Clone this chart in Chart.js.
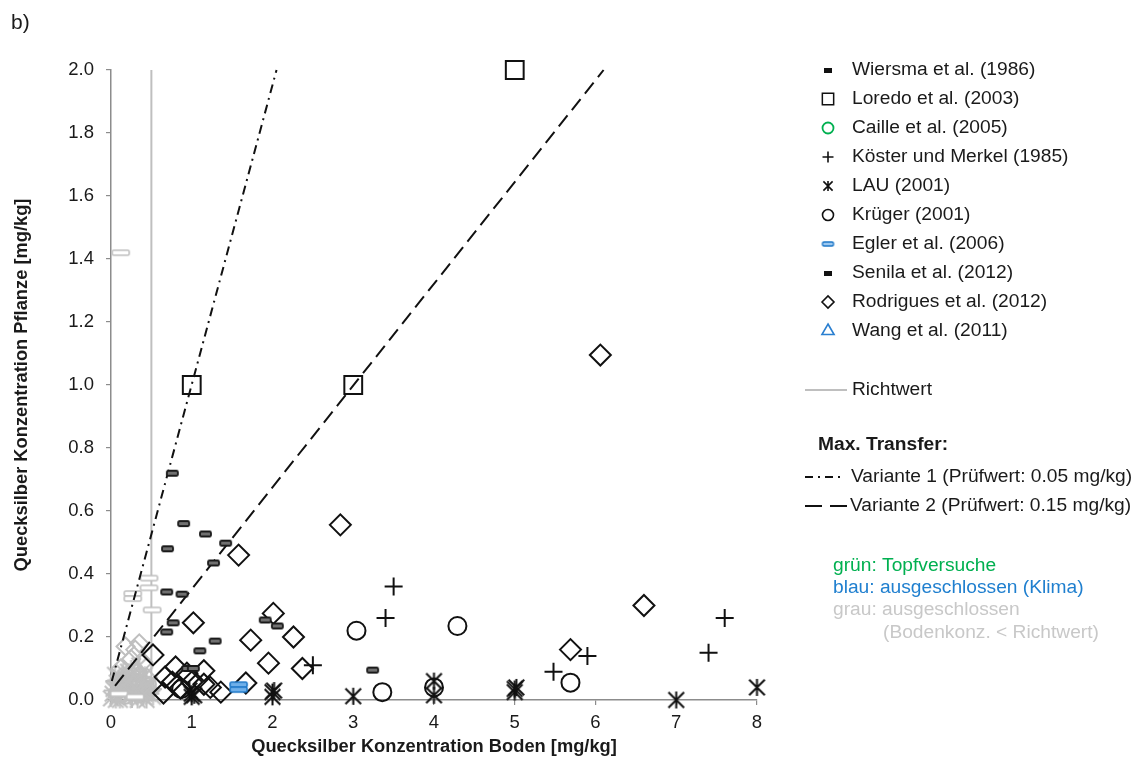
<!DOCTYPE html>
<html>
<head>
<meta charset="utf-8">
<script src="https://cdn.jsdelivr.net/npm/chart.js@4.4.1/dist/chart.umd.min.js"></script>
<style>
  html, body { margin: 0; padding: 0; background: #ffffff; }
  #wrap { width: 1140px; height: 762px; position: relative; }
</style>
</head>
<body>
<div id="wrap"><canvas id="c" width="1140" height="762"></canvas></div>
<script>
// ---- axis ticks ----
const xTicks = [0, 1, 2, 3, 4, 5, 6, 7, 8];
const yTicks = [0.0, 0.2, 0.4, 0.6, 0.8, 1.0, 1.2, 1.4, 1.6, 1.8, 2.0];

// ---- studies: [Boden, Pflanze] in mg/kg ----
const wiersma = [[0.76,0.72],[0.90,0.56],[1.17,0.527],[0.70,0.48],[1.42,0.498],[1.27,0.435],
  [0.69,0.343],[0.88,0.336],[0.77,0.245],[0.69,0.216],[1.29,0.187],[1.10,0.156],[0.95,0.10],[1.02,0.10]];
const loredo = [[1.0,1.0],[3.0,1.0],[5.0,2.0]];
const caille = [];
const koester = [[3.5,0.36],[3.4,0.26],[2.5,0.11],[5.48,0.09],[5.9,0.14],[7.6,0.26],[7.4,0.15]];
const lau = [[1.0,0.01],[1.0,0.02],[0.97,0.03],[1.03,0.015],[2.0,0.01],[2.0,0.025],[2.02,0.03],
  [3.0,0.012],[4.0,0.015],[4.0,0.06],[5.0,0.025],[5.0,0.035],[5.02,0.04],[7.0,0.0],[8.0,0.04]];
const krueger = [[3.04,0.22],[4.29,0.235],[3.36,0.025],[5.69,0.055],[4.0,0.04],[0.87,0.035]];
const egler = [[1.58,0.041]];
const senila = [[3.24,0.095],[1.91,0.254],[2.06,0.235]];
const rodrigues = [[6.06,1.095],[2.84,0.556],[6.6,0.30],[5.69,0.16],[1.58,0.46],[1.02,0.245],
  [2.01,0.275],[2.26,0.20],[1.73,0.19],[1.95,0.117],[2.37,0.10],[0.52,0.143],[1.67,0.054],
  [1.36,0.025],[0.8,0.105],[0.67,0.073],[0.94,0.085],[1.15,0.093],[0.76,0.057],[1.0,0.057],
  [1.15,0.05],[1.23,0.04],[0.65,0.022],[0.86,0.038]];
const wang = [];

// ---- excluded values (soil below guide value), drawn in grey ----
const greyDashes = [[0.12,1.42],[0.27,0.338],[0.27,0.322],[0.47,0.387],[0.47,0.356],[0.51,0.286],[0.10,0.02],[0.30,0.01]];
const greyDiamonds = [[0.18,0.17],[0.30,0.16],[0.35,0.18],[0.25,0.13],[0.40,0.12],[0.12,0.10],[0.20,0.08],
  [0.33,0.09],[0.45,0.07],[0.10,0.05],[0.28,0.05],[0.38,0.04],[0.22,0.03],[0.48,0.03],[0.15,0.02]];
const greyStars = [[0.02,0.02],[0.05,0.04],[0.08,0.01],[0.10,0.03],[0.13,0.06],[0.17,0.02],[0.20,0.05],
  [0.24,0.01],[0.27,0.03],[0.30,0.07],[0.34,0.02],[0.37,0.05],[0.40,0.01],[0.43,0.04],[0.46,0.02],
  [0.05,0.08],[0.15,0.09],[0.25,0.10],[0.35,0.11],[0.42,0.08],[0.0,0.005],[0.03,0.035],[0.07,0.055],
  [0.11,0.0],[0.16,0.04],[0.19,0.065],[0.22,0.015],[0.26,0.055],[0.31,0.035],[0.33,0.0],[0.36,0.065],
  [0.39,0.025],[0.44,0.0],[0.48,0.05],[0.52,0.01],[0.09,0.07],[0.21,0.09],[0.29,0.085],[0.06,0.0]];
const greyCrosses = [[0.03,0.06],[0.07,0.03],[0.12,0.015],[0.19,0.035],[0.23,0.06],[0.29,0.02],
  [0.32,0.045],[0.39,0.03],[0.44,0.06],[0.50,0.02],[0.01,0.03],[0.14,0.05],[0.26,0.0],[0.41,0.045],[0.53,0.035]];
const greyCircles = [[0.06,0.02],[0.14,0.04],[0.26,0.08],[0.36,0.015],[0.47,0.05],[0.18,0.01],[0.32,0.06]];

// ---- reference lines ----
const richtwert = [[0.5,0.0],[0.5,2.0]];
const variante1 = [[0.01,0.06],[2.05,2.0]];
const variante2 = [[0.05,0.045],[6.1,2.0]];

// ---- helpers ----
const FONT = "'Liberation Sans', Arial, Helvetica, sans-serif";
const TEXT = '#1a1a1a';
const GREY = '#bfbfbf';
const toPts = a => a.map(p => ({ x: p[0], y: p[1] }));

function makeCanvas(w, h, draw) {
  const c = document.createElement('canvas');
  c.width = w; c.height = h;
  draw(c.getContext('2d'), w, h);
  return c;
}
function roundRect(g, x, y, w, h, r) {
  g.beginPath();
  g.moveTo(x + r, y);
  g.lineTo(x + w - r, y);
  g.quadraticCurveTo(x + w, y, x + w, y + r);
  g.lineTo(x + w, y + h - r);
  g.quadraticCurveTo(x + w, y + h, x + w - r, y + h);
  g.lineTo(x + r, y + h);
  g.quadraticCurveTo(x, y + h, x, y + h - r);
  g.lineTo(x, y + r);
  g.quadraticCurveTo(x, y, x + r, y);
  g.closePath();
}
function dashMarker(w, h, stroke, fill, lw) {
  return makeCanvas(w + 4, h + 4, (g) => {
    g.lineWidth = lw; g.strokeStyle = stroke; g.fillStyle = fill;
    roundRect(g, 2, 2, w, h, 1.5);
    g.fill(); g.stroke();
  });
}
function doubleDash(w, h, stroke, fill, lw) {
  return makeCanvas(w + 4, 2 * h + 4, (g) => {
    g.lineWidth = lw; g.strokeStyle = stroke; g.fillStyle = fill;
    roundRect(g, 2, 2, w, h, 1.5); g.fill(); g.stroke();
    roundRect(g, 2, 2 + h, w, h, 1.5); g.fill(); g.stroke();
  });
}
function starMarker(size, color, lw) {
  const W = size + 4;
  return makeCanvas(W, W, (g) => {
    const c = W / 2, r = size / 2, d = r * 0.92;
    g.strokeStyle = color; g.lineWidth = lw;
    g.beginPath();
    g.moveTo(c, c - r); g.lineTo(c, c + r);
    g.moveTo(c - d, c - d); g.lineTo(c + d, c + d);
    g.moveTo(c + d, c - d); g.lineTo(c - d, c + d);
    g.stroke();
  });
}

const mkBlackDash = dashMarker(11, 5, '#1a1a1a', '#707070', 1.8);
const mkBlueDash = doubleDash(17, 5, '#1f78c8', '#6fb0ea', 1.6);
const mkGreyDash = dashMarker(17, 5, GREY, '#ffffff', 1.6);
const mkStar = starMarker(17, '#111111', 2);
const mkGreyStar = starMarker(17, GREY, 2);

// legend-sized markers
const lgBlackDash = makeCanvas(8, 5, (g) => { g.fillStyle = '#111111'; g.fillRect(0, 0, 8, 5); });
const lgBlueDash = dashMarker(11, 4, '#1f78c8', '#9cc8f0', 1.4);
const lgStar = starMarker(10, '#111111', 1.6);

function scatterSet(label, data, style, extra) {
  return Object.assign({
    type: 'scatter', label, data: toPts(data), pointStyle: style,
    pointRadius: 9, pointHoverRadius: 9, borderWidth: 2, pointBorderWidth: 2,
    borderColor: '#111111', pointBorderColor: '#111111',
    backgroundColor: 'rgba(0,0,0,0)', pointBackgroundColor: 'rgba(0,0,0,0)',
    clip: false, order: 1
  }, extra || {});
}
function lineSet(label, data, color, dash, extra) {
  return Object.assign({
    type: 'line', label, data: toPts(data), showLine: true, borderColor: color,
    borderWidth: 2, borderDash: dash, pointRadius: 0, pointHoverRadius: 0,
    fill: false, clip: false, order: 2, tension: 0
  }, extra || {});
}

const datasets = [
  scatterSet('Wiersma et al. (1986)', wiersma, mkBlackDash),
  scatterSet('Loredo et al. (2003)', loredo, 'rect', { pointRadius: 12.6 }),
  scatterSet('Caille et al. (2005)', caille, 'circle', { pointBorderColor: '#00b050', borderColor: '#00b050' }),
  scatterSet('Köster und Merkel (1985)', koester, 'cross', { pointRadius: 9 }),
  scatterSet('LAU (2001)', lau, mkStar),
  scatterSet('Krüger (2001)', krueger, 'circle', { pointRadius: 9 }),
  scatterSet('Egler et al. (2006)', egler, mkBlueDash),
  scatterSet('Senila et al. (2012)', senila, mkBlackDash),
  scatterSet('Rodrigues et al. (2012)', rodrigues, 'rectRot', { pointRadius: 10.5 }),
  scatterSet('Wang et al. (2011)', wang, 'triangle', { pointBorderColor: '#2a7fd0', borderColor: '#2a7fd0' }),
  lineSet('Richtwert', richtwert, GREY, [], { order: 4 }),
  lineSet('Variante 1', variante1, '#111111', [9, 5, 2, 5]),
  lineSet('Variante 2', variante2, '#111111', [14, 7]),
  scatterSet('grau Strich', greyDashes, mkGreyDash, { order: 3 }),
  scatterSet('grau Raute', greyDiamonds, 'rectRot', { order: 3, pointRadius: 9, pointBorderColor: GREY }),
  scatterSet('grau Stern', greyStars, mkGreyStar, { order: 3 }),
  scatterSet('grau Kreuz', greyCrosses, 'cross', { order: 3, pointRadius: 8, pointBorderColor: GREY }),
  scatterSet('grau Kreis', greyCircles, 'circle', { order: 3, pointRadius: 7, pointBorderColor: GREY })
];

// legend entries for the study markers
const legendStudies = [
  { text: 'Wiersma et al. (1986)', style: lgBlackDash },
  { text: 'Loredo et al. (2003)', style: 'rect', r: 8, color: '#111111', lw: 1.5 },
  { text: 'Caille et al. (2005)', style: 'circle', r: 5.5, color: '#00b050', lw: 1.8 },
  { text: 'Köster und Merkel (1985)', style: 'cross', r: 5.5, color: '#111111', lw: 1.6 },
  { text: 'LAU (2001)', style: lgStar },
  { text: 'Krüger (2001)', style: 'circle', r: 5.5, color: '#111111', lw: 1.6 },
  { text: 'Egler et al. (2006)', style: lgBlueDash },
  { text: 'Senila et al. (2012)', style: lgBlackDash },
  { text: 'Rodrigues et al. (2012)', style: 'rectRot', r: 6, color: '#111111', lw: 1.6 },
  { text: 'Wang et al. (2011)', style: 'triangle', r: 7, color: '#2a7fd0', lw: 1.6 }
];

const LEGEND_FONT = '19.2px ' + FONT;

const legendPlugin = {
  id: 'sideLegend',
  afterDraw(chart) {
    const ctx = chart.ctx;
    ctx.save();
    ctx.textBaseline = 'middle';
    ctx.textAlign = 'left';
    // panel label
    ctx.fillStyle = TEXT;
    ctx.font = '21px ' + FONT;
    ctx.fillText('b)', 11, 23);

    ctx.font = LEGEND_FONT;
    legendStudies.forEach((it, i) => {
      const y = 70 + i * 29;
      ctx.save();
      ctx.strokeStyle = it.color || '#111';
      ctx.fillStyle = 'rgba(0,0,0,0)';
      ctx.lineWidth = it.lw || 1.5;
      Chart.helpers.drawPoint(ctx, { pointStyle: it.style, radius: it.r || 5, rotation: 0, borderWidth: it.lw || 1.5 }, 828, y);
      ctx.restore();
      ctx.fillStyle = TEXT;
      ctx.fillText(it.text, 852, y);
    });

    // Richtwert
    ctx.strokeStyle = GREY; ctx.lineWidth = 2; ctx.setLineDash([]);
    ctx.beginPath(); ctx.moveTo(805, 390); ctx.lineTo(847, 390); ctx.stroke();
    ctx.fillStyle = TEXT;
    ctx.fillText('Richtwert', 852, 390);

    ctx.font = 'bold ' + LEGEND_FONT;
    ctx.fillText('Max. Transfer:', 818, 445);

    ctx.font = LEGEND_FONT;
    ctx.strokeStyle = '#111111'; ctx.lineWidth = 2;
    ctx.setLineDash([8, 5, 2, 5]);
    ctx.beginPath(); ctx.moveTo(805, 477); ctx.lineTo(841, 477); ctx.stroke();
    ctx.setLineDash([17, 8]);
    ctx.beginPath(); ctx.moveTo(805, 506); ctx.lineTo(848, 506); ctx.stroke();
    ctx.setLineDash([]);
    ctx.fillText('Variante 1 (Prüfwert: 0.05 mg/kg)', 851, 477);
    ctx.fillText('Variante 2 (Prüfwert: 0.15 mg/kg)', 850, 506);

    ctx.fillStyle = '#00b050';
    ctx.fillText('grün: Topfversuche', 833, 566);
    ctx.fillStyle = '#1f7fcf';
    ctx.fillText('blau: ausgeschlossen (Klima)', 833, 588);
    ctx.fillStyle = '#c8c8c8';
    ctx.fillText('grau: ausgeschlossen', 833, 610);
    ctx.fillText('(Bodenkonz. < Richtwert)', 883, 633);
    ctx.restore();
  }
};

Chart.defaults.font.family = FONT;
Chart.defaults.font.size = 18;
Chart.defaults.color = TEXT;

new Chart(document.getElementById('c'), {
  type: 'scatter',
  data: { datasets },
  options: {
    responsive: false,
    animation: false,
    events: [],
    layout: { padding: { left: 7, top: 70, right: 383, bottom: 0 } },
    plugins: { legend: { display: false }, tooltip: { enabled: false } },
    scales: {
      x: {
        type: 'linear', min: 0, max: 8,
        afterBuildTicks: (s) => { s.ticks = xTicks.map(v => ({ value: v })); },
        afterFit: (s) => { s.height = 62; },
        ticks: { padding: 7, color: TEXT, font: { size: 18.5 }, callback: (v) => String(v) },
        grid: { drawOnChartArea: false, drawTicks: true, tickLength: 5, color: '#8c8c8c', lineWidth: 1.2 },
        border: { display: true, color: '#8c8c8c', width: 1.5 },
        title: { display: true, text: 'Quecksilber Konzentration Boden [mg/kg]', color: TEXT,
                 font: { size: 18.3, weight: 'bold' }, padding: { top: 2, bottom: 4 } }
      },
      y: {
        type: 'linear', min: 0, max: 2,
        afterBuildTicks: (s) => { s.ticks = yTicks.map(v => ({ value: v })); },
        afterFit: (s) => { s.width = 104; },
        ticks: { padding: 12, color: TEXT, font: { size: 18.5 }, callback: (v) => Number(v).toFixed(1) },
        grid: { drawOnChartArea: false, drawTicks: true, tickLength: 5, color: '#8c8c8c', lineWidth: 1.2 },
        border: { display: true, color: '#8c8c8c', width: 1.5 },
        title: { display: true, text: 'Quecksilber Konzentration Pflanze [mg/kg]', color: TEXT,
                 font: { size: 18.3, weight: 'bold' }, padding: { top: 4, bottom: 4 } }
      }
    }
  },
  plugins: [legendPlugin]
});
</script>
</body>
</html>
